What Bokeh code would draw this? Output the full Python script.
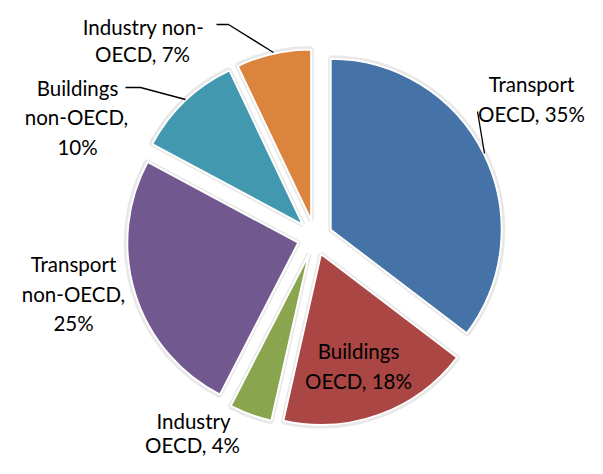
import math
from bokeh.plotting import figure
from bokeh.models import Range1d, ColumnDataSource
from bokeh.core.properties import value
from bokeh.embed import file_html
from bokeh.resources import INLINE

# ---- data ----
categories = ["Transport OECD", "Buildings OECD", "Industry OECD",
              "Transport non-OECD", "Buildings non-OECD", "Industry non-OECD"]
shares = [35, 18, 4, 25, 10, 7]
colors = ["#4572A7", "#AA4643", "#89A54E", "#71588F", "#4198AF", "#DB843D"]

# label lines per slice: (text, x, baseline y) in picture pixel coords
label_lines = [
    [("Transport", 531, 83), ("OECD, 35%", 531, 113)],
    [("Buildings", 358, 350), ("OECD, 18%", 358, 380)],
    [("Industry", 193, 420), ("OECD, 4%", 192, 444)],
    [("Transport", 73, 263), ("non-OECD,", 73, 293), ("25%", 73, 322)],
    [("Buildings", 77, 87), ("non-OECD,", 76, 116), ("10%", 77, 146)],
    [("Industry non-", 143, 26), ("OECD, 7%", 142, 53)],
]
leaders = [
    [(477, 111), (484, 153)],
    [(216, 24), (228, 24), (273, 52)],
    [(125, 87), (140, 87), (185, 99)],
]

# ---- layout ----
W, H = 587, 458
CX, CY = 314.5, 237.0   # pie centre (picture px)
R = 171.0
EXPLODE = 17.5

p = figure(width=W, height=H, output_backend="svg", toolbar_location=None,
           x_range=Range1d(0, W), y_range=Range1d(-H, 0),
           min_border=0, outline_line_color=None)
p.axis.visible = False
p.grid.visible = False
p.background_fill_color = "white"
p.border_fill_color = "white"

total = sum(shares)
xs, ys, starts, ends = [], [], [], []
cum = 0.0
for v in shares:
    t1 = 360.0 * cum / total
    cum += v
    t2 = 360.0 * cum / total
    mid = math.radians((t1 + t2) / 2)
    xs.append(CX + EXPLODE * math.sin(mid))
    ys.append(-(CY - EXPLODE * math.cos(mid)))
    starts.append(math.radians(90 - t1))
    ends.append(math.radians(90 - t2))

src = ColumnDataSource(dict(x=xs, y=ys, s=starts, e=ends, c=colors, cat=categories, v=shares))

# soft grey halo
p.wedge(x="x", y="y", radius=R + 1, start_angle="s", end_angle="e", direction="clock",
        fill_color="#bdbdbd", fill_alpha=0.35, line_color="#bdbdbd", line_alpha=0.35,
        line_width=5, source=src)
p.wedge(x="x", y="y", radius=R, start_angle="s", end_angle="e", direction="clock",
        fill_color="c", line_color="white", line_width=2, source=src)

# labels
tx, ty, tt = [], [], []
for lines in label_lines:
    for t, x, y in lines:
        tx.append(x); ty.append(-y); tt.append(t)
p.text(x=tx, y=ty, text=tt, text_font=value("Lato"), text_font_size="20.5px",
       text_align="center", text_baseline="alphabetic", text_color="black")

for pts in leaders:
    p.line(x=[a for a, b in pts], y=[-b for a, b in pts], line_color="black", line_width=1.3)

open("out.html", "w").write(file_html(p, INLINE))
